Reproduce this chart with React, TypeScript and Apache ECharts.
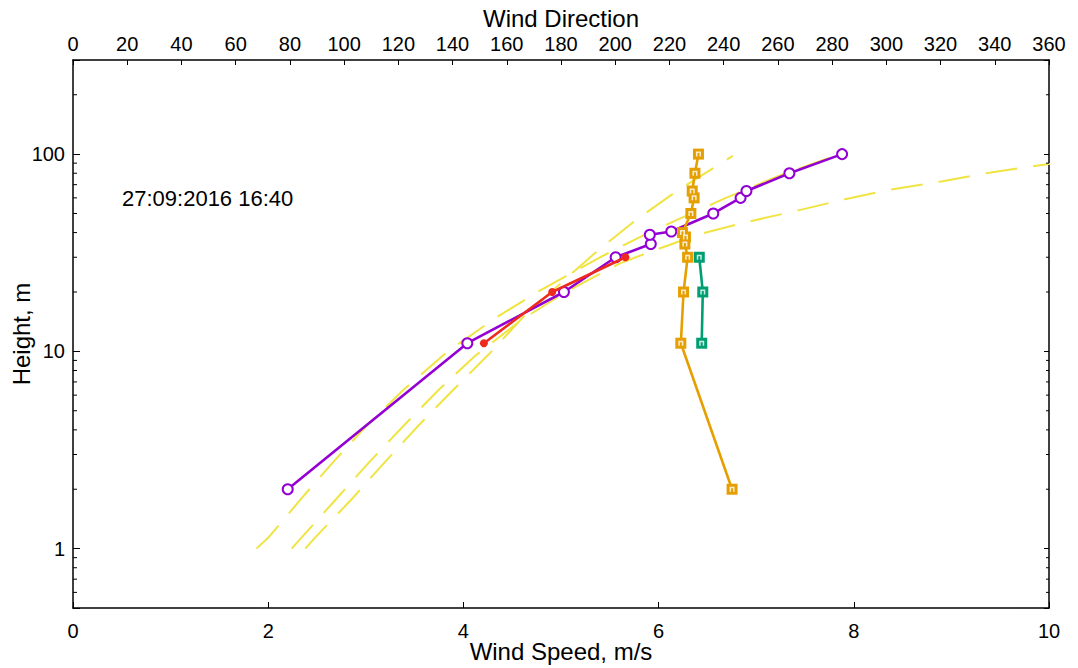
import React, { useEffect, useRef } from "react";
import * as echarts from "echarts";

// ---- data ----
const purpleHeights = [2, 11, 20, 30, 35, 39, 40.5, 50, 60, 65, 80, 100];
const purpleSpeeds = [2.2, 4.04, 5.03, 5.56, 5.92, 5.91, 6.13, 6.56, 6.84, 6.9, 7.34, 7.88];

const redHeights = [11, 20, 30];
const redSpeeds = [4.21, 4.91, 5.66];

const orangeHeights = [2, 11, 20, 30, 35, 38, 40, 50, 60, 65, 80, 100];
const orangeDirections = [243.1, 224.2, 225.2, 226.7, 225.7, 225.9, 224.8, 227.9, 229.1, 228.4, 229.4, 230.7];

const greenHeights = [11, 20, 30];
const greenDirections = [231.9, 232.3, 231.0];

// dashed fit curves (speed, height) read along the yellow dashes
const fitAHeights = [1, 1.15, 1.77, 2.76, 4.21, 6.41, 10, 15, 20, 30, 40, 60, 80, 100];
const fitASpeeds = [1.88, 2.01, 2.33, 2.67, 3.01, 3.39, 3.84, 4.35, 4.76, 5.4, 5.9, 6.69, 7.3, 7.86];

const fitBHeights = [1, 1.15, 1.77, 2.76, 4.21, 6.41, 9.66, 14.9, 22.9, 32.2, 46.4, 64.6, 88.6, 98];
const fitBSpeeds = [2.38, 2.49, 2.85, 3.2, 3.54, 3.9, 4.26, 4.61, 5.03, 5.37, 5.77, 6.18, 6.62, 6.76];

const fitCHeights = [1, 1.15, 1.77, 2.76, 4.21, 6.41, 9.4, 14.5, 20, 24, 28, 32.2, 39.3, 45.7, 51.4, 59.1, 66.4, 72.9, 81, 88.9, 96];
const fitCSpeeds = [2.24, 2.35, 2.69, 3.04, 3.39, 3.75, 4.11, 4.6, 5.05, 5.35, 5.61, 5.93, 6.42, 6.94, 7.4, 7.91, 8.4, 8.91, 9.42, 9.98, 10.4];

const speedTicks = { min: 0, max: 10, interval: 2 };
const directionTicks = { min: 0, max: 360, interval: 20 };
const heightRange = { min: 0.5, max: 300 };
const majorHeightLabels = [1, 10, 100];
const minorHeightTicks = [0.6, 0.7, 0.8, 0.9, 2, 3, 4, 5, 6, 7, 8, 9, 20, 30, 40, 50, 60, 70, 80, 90, 200];

const timestampLabel = "27:09:2016 16:40";

const FONT = "'Liberation Sans', Arial, sans-serif";
const PURPLE = "#9400D3";
const RED = "#EE2A1E";
const ORANGE = "#E69F00";
const GREEN = "#009E73";
const YELLOW = "#F0E442";

const zip = (xs: number[], ys: number[]) => xs.map((x, i) => [x, ys[i]]);

const SQUARE = "path://M0,0H12V12H0Z";
const GLYPH = "path://M0,0H10V10H7V3H3V10H0Z";

export default function App() {
  const ref = useRef<HTMLDivElement>(null);
  useEffect(() => {
    if (!ref.current) return;
    const chart = echarts.init(ref.current, null, { renderer: "svg" });

    const fitSeries = (hs: number[], ss: number[]) => ({
      type: "line",
      xAxisIndex: 0,
      yAxisIndex: 0,
      data: zip(ss, hs),
      showSymbol: false,
      symbol: "none",
      silent: true,
      lineStyle: { color: YELLOW, width: 2, type: [32, 16] },
      z: 2,
    });

    const axisLine = { show: true, onZero: false, lineStyle: { color: "#000", width: 1.5 } };
    const labelStyle = { fontSize: 20, color: "#000", fontFamily: FONT };
    const nameStyle = { fontSize: 24, color: "#000", fontFamily: FONT };

    chart.setOption({
      animation: false,
      backgroundColor: "#fff",
      grid: { left: 73, right: 29, top: 60, bottom: 60, containLabel: false, outerBoundsMode: "none" },
      xAxis: [
        {
          type: "value",
          position: "bottom",
          ...speedTicks,
          axisLine,
          axisTick: { inside: true, length: 6, lineStyle: { color: "#000", width: 1 } },
          axisLabel: { ...labelStyle, margin: 13 },
          splitLine: { show: false },
          name: "Wind Speed, m/s",
          nameLocation: "middle",
          nameGap: 31,
          nameMoveOverlap: false,
          nameTextStyle: nameStyle,
        },
        {
          type: "value",
          position: "top",
          ...directionTicks,
          axisLine,
          axisTick: { inside: true, length: 5, lineStyle: { color: "#000", width: 1 } },
          axisLabel: { ...labelStyle, margin: 6 },
          splitLine: { show: false },
          name: "Wind Direction",
          nameLocation: "middle",
          nameGap: 30,
          nameMoveOverlap: false,
          nameTextStyle: nameStyle,
        },
      ],
      yAxis: [
        {
          type: "log",
          logBase: 10,
          position: "left",
          ...heightRange,
          axisLine,
          axisTick: { inside: true, length: 7, lineStyle: { color: "#000", width: 1 } },
          axisLabel: {
            ...labelStyle,
            margin: 8,
            formatter: (v: number) =>
              majorHeightLabels.some((m) => Math.abs(v - m) < 1e-6 * m) ? String(Math.round(v)) : "",
          },
          splitLine: { show: false },
          name: "Height, m",
          nameLocation: "middle",
          nameGap: 40,
          nameMoveOverlap: false,
          nameTextStyle: nameStyle,
        },
        {
          type: "log",
          logBase: 10,
          position: "right",
          ...heightRange,
          axisLine,
          axisTick: { inside: true, length: 5, lineStyle: { color: "#000", width: 1 } },
          axisLabel: { show: false },
          splitLine: { show: false },
        },
      ],
      graphic: [
        {
          type: "text",
          left: 122,
          top: 187,
          style: { text: timestampLabel, fontSize: 22, fill: "#000", fontFamily: FONT },
        },
      ],
      series: [
        fitSeries(fitAHeights, fitASpeeds),
        fitSeries(fitBHeights, fitBSpeeds),
        fitSeries(fitCHeights, fitCSpeeds),
        {
          type: "line",
          xAxisIndex: 0,
          yAxisIndex: 0,
          data: zip(purpleSpeeds, purpleHeights),
          symbol: "emptyCircle",
          symbolSize: 10,
          showAllSymbol: true,
          lineStyle: { color: PURPLE, width: 2.6 },
          itemStyle: { color: PURPLE, borderColor: PURPLE, borderWidth: 2.4 },
          z: 3,
        },
        {
          type: "line",
          xAxisIndex: 0,
          yAxisIndex: 0,
          data: zip(redSpeeds, redHeights),
          symbol: "circle",
          symbolSize: 8,
          lineStyle: { color: RED, width: 2.6 },
          itemStyle: { color: RED },
          z: 4,
        },
        {
          type: "line",
          xAxisIndex: 1,
          yAxisIndex: 0,
          data: zip(orangeDirections, orangeHeights),
          symbol: SQUARE,
          symbolSize: 11,
          showAllSymbol: true,
          lineStyle: { color: ORANGE, width: 2.6 },
          itemStyle: { color: ORANGE, opacity: 1 },
          z: 5,
        },
        {
          type: "scatter",
          xAxisIndex: 1,
          yAxisIndex: 0,
          data: zip(orangeDirections, orangeHeights),
          symbol: GLYPH,
          symbolSize: 5,
          silent: true,
          itemStyle: { color: "#fff" },
          z: 6,
        },
        {
          type: "line",
          xAxisIndex: 1,
          yAxisIndex: 0,
          data: zip(greenDirections, greenHeights),
          symbol: SQUARE,
          symbolSize: 11,
          lineStyle: { color: GREEN, width: 2.6 },
          itemStyle: { color: GREEN, opacity: 1 },
          z: 7,
        },
        {
          type: "scatter",
          xAxisIndex: 1,
          yAxisIndex: 0,
          data: zip(greenDirections, greenHeights),
          symbol: GLYPH,
          symbolSize: 5,
          silent: true,
          itemStyle: { color: "#fff" },
          z: 8,
        },
        {
          type: "custom",
          xAxisIndex: 0,
          yAxisIndex: 0,
          silent: true,
          clip: false,
          z: 9,
          data: minorHeightTicks.map((v) => [speedTicks.min, v]),
          renderItem: (params: any, api: any) => {
            const v = api.value(1);
            const l = api.coord([speedTicks.min, v]);
            const r = api.coord([speedTicks.max, v]);
            return {
              type: "group",
              children: [
                { type: "line", shape: { x1: l[0], y1: l[1], x2: l[0] + 4, y2: l[1] }, style: { stroke: "#000", lineWidth: 1 } },
                { type: "line", shape: { x1: r[0], y1: r[1], x2: r[0] - 3, y2: r[1] }, style: { stroke: "#000", lineWidth: 1 } },
              ],
            };
          },
        },
      ],
    });
    return () => chart.dispose();
  }, []);

  return <div ref={ref} style={{ position: "fixed", left: 0, top: 0, width: 1078, height: 668 }} />;
}
